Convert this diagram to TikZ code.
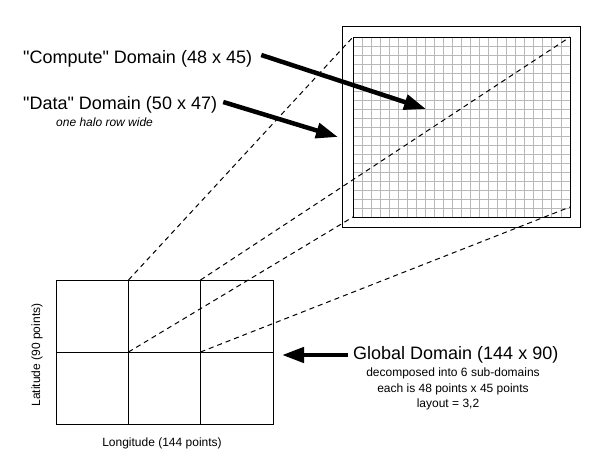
\documentclass[tikz,border=0pt]{standalone}
\usepackage{fontspec}
\setmainfont{Liberation Sans}[Ligatures=TeXOff]
\usetikzlibrary{arrows.meta}
\begin{document}
\begin{tikzpicture}[x=1pt,y=-1pt,
  big/.style={font=\fontsize{18}{20}\selectfont, inner sep=0pt},
  small/.style={font=\fontsize{12}{14}\selectfont, inner sep=0pt},
  dashln/.style={black, line width=1pt, dash pattern=on 5pt off 4pt},
  fatarrow/.style={line width=4.5pt, -{Triangle[length=22pt,width=15pt]}},
  gridln/.style={black!28, line width=0.9pt},
  boxln/.style={black, line width=1pt}]
\useasboundingbox (0,0) rectangle (609,463);
% data/compute domain
\draw[boxln] (342,26) rectangle (580,227);
\foreach \i in {0,...,24} {\draw[gridln] ({353+\i*217/24},37) -- ({353+\i*217/24},217);}
\foreach \j in {0,...,20} {\draw[gridln] (353,{37+\j*9}) -- (570,{37+\j*9});}
\draw[boxln] (353,37) rectangle (570,217);
\coordinate (dTL) at (353,37);
\coordinate (dTR) at (570,37);
\coordinate (dBL) at (353,217);
\coordinate (dBR) at (570,207);
% global domain
\draw[boxln] (56,280) rectangle (273,424);
\coordinate (c1) at (128.5,280);
\coordinate (c2) at (200.5,280);
\coordinate (c3) at (128.5,352);
\coordinate (c4) at (200.5,352);
\coordinate (gE) at (274,352);
\draw[boxln] (c1) -- (128.5,424);
\draw[boxln] (c2) -- (200.5,424);
\draw[boxln] (56,352) -- (gE);
% dashed projections
\draw[dashln] (c1) -- (dTL);
\draw[dashln] (c2) -- (dTR);
\draw[dashln] (c3) -- (dBL);
\draw[dashln] (c4) -- (dBR);
% labels
\node[big, anchor=west] (clabel) at (23,59) {"Compute" Domain (48 x 45)};
\node[big, anchor=west] (dlabel) at (23,105) {"Data" Domain (50 x 47)};
\node[small, anchor=west, font=\fontsize{12}{14}\selectfont\itshape] (halo) at (56,122) {one halo row wide};
\node[big, anchor=west] (glabel) at (353,355) {Global Domain (144 x 90)};
\node[small] (g1) at (453,373) {decomposed into 6 sub-domains};
\node[small] (g2) at (453,389) {each is 48 points x 45 points};
\node[small] (g3) at (448,404) {layout = 3,2};
\node[small] (lon) at (162,443) {Longitude (144 points)};
\node[small, rotate=90] (lat) at (37,355) {Latitude (90 points)};
% arrows
\coordinate (ctip) at (426,109);
\coordinate (dtip) at (338,137);
\coordinate (gtip) at (282,355);
\draw[fatarrow] ([xshift=9pt,yshift=4pt]clabel.east) -- (ctip);
\draw[fatarrow] ([xshift=6pt,yshift=3pt]dlabel.east) -- (dtip);
\draw[fatarrow] ([xshift=-5pt]glabel.west) -- (gtip);
\end{tikzpicture}
\end{document}
